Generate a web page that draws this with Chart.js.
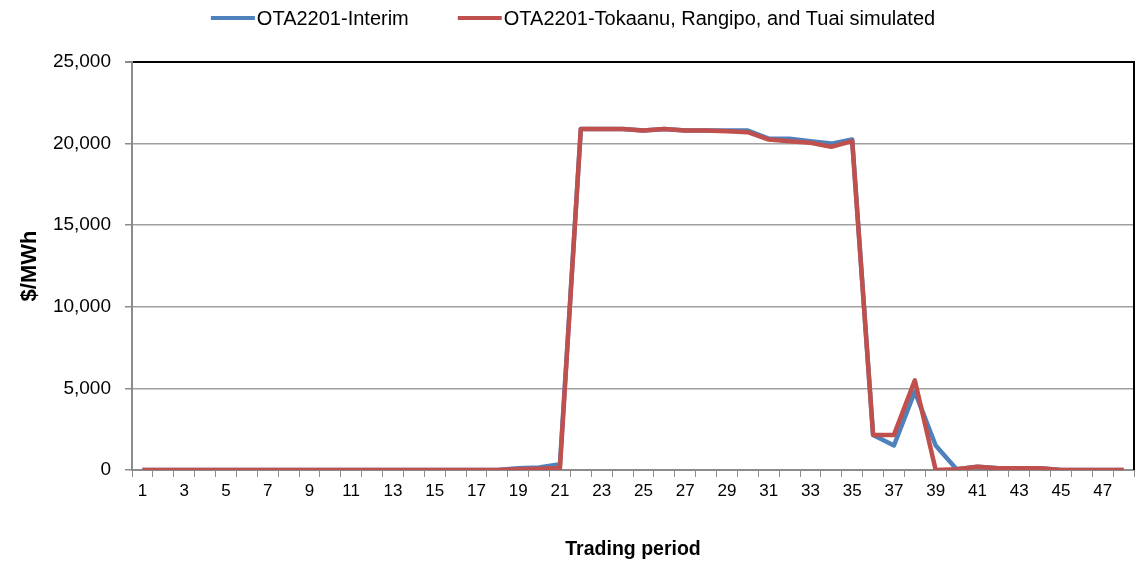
<!DOCTYPE html>
<html>
<head>
<meta charset="utf-8">
<script src="https://cdn.jsdelivr.net/npm/chart.js@4.4.1/dist/chart.umd.min.js"></script>
<style>
  html, body { margin: 0; padding: 0; background: #fff; }
  #wrap { width: 1146px; height: 565px; }
</style>
</head>
<body>
<div id="wrap"><canvas id="myChart" width="1146" height="565"></canvas></div>
<script>
// trading periods 1..48
const periods = [];
for (let p = 1; p <= 48; p++) periods.push(String(p));

const interim = [
  0, 0, 0, 0, 0, 0, 0, 0, 0, 0, 0, 0, 0, 0, 0, 0, 0, 0,
  100, 150, 350,
  20900, 20900, 20900, 20800, 20900, 20800, 20800, 20800, 20800,
  20300, 20300, 20150, 20000, 20250,
  2150, 1500, 4800, 1500, 50, 200, 100, 100, 100, 0, 0, 0, 0
];

const simulated = [
  0, 0, 0, 0, 0, 0, 0, 0, 0, 0, 0, 0, 0, 0, 0, 0, 0, 0,
  50, 80, 120,
  20900, 20900, 20900, 20800, 20900, 20800, 20800, 20750, 20700,
  20250, 20150, 20050, 19800, 20150,
  2150, 2150, 5500, 0, 50, 200, 100, 100, 100, 0, 0, 0, 0
];

const seriesNames = ['OTA2201-Interim', 'OTA2201-Tokaanu, Rangipo, and Tuai simulated'];
const seriesColors = ['#4F81BD', '#C0504D'];

const FONT = "'Liberation Sans', Arial, sans-serif";

// legend drawn by hand so it sits exactly like the original
const legendPlugin = {
  id: 'topLegend',
  afterDraw(chart) {
    const ctx = chart.ctx;
    ctx.save();
    ctx.font = '20px ' + FONT;
    const lineW = 44, gapText = 2, gapItem = 49;
    const widths = seriesNames.map(n => lineW + gapText + ctx.measureText(n).width);
    const total = widths.reduce((a, b) => a + b, 0) + gapItem * (widths.length - 1);
    let x = chart.width / 2 - total / 2;
    const y = 18;
    seriesNames.forEach((name, i) => {
      ctx.strokeStyle = seriesColors[i];
      ctx.lineWidth = 4;
      ctx.beginPath();
      ctx.moveTo(x, y);
      ctx.lineTo(x + lineW, y);
      ctx.stroke();
      ctx.fillStyle = '#000';
      ctx.textBaseline = 'middle';
      ctx.textAlign = 'left';
      ctx.fillText(name, x + lineW + gapText, y + 1);
      x += widths[i] + gapItem;
    });
    ctx.restore();
  }
};

// black right edge of the plot area
const borderPlugin = {
  id: 'rightBorder',
  afterDatasetsDraw(chart) {
    const { ctx, chartArea } = chart;
    ctx.save();
    ctx.strokeStyle = '#000';
    ctx.lineWidth = 2;
    ctx.beginPath();
    ctx.moveTo(chartArea.right, chartArea.top - 1);
    ctx.lineTo(chartArea.right, chartArea.bottom);
    ctx.stroke();
    ctx.restore();
  }
};

window.onload = function () {
  const ctx = document.getElementById('myChart').getContext('2d');

  new Chart(ctx, {
    type: 'line',
    data: {
      labels: periods,
      datasets: [
        {
          label: seriesNames[0],
          data: interim,
          borderColor: seriesColors[0],
          borderWidth: 4.5,
          pointRadius: 0,
          tension: 0,
          borderJoinStyle: 'round',
          order: 2
        },
        {
          label: seriesNames[1],
          data: simulated,
          borderColor: seriesColors[1],
          borderWidth: 4.5,
          pointRadius: 0,
          tension: 0,
          borderJoinStyle: 'round',
          order: 1
        }
      ]
    },
    options: {
      responsive: false,
      animation: false,
      layout: { padding: { top: 62, right: 12, left: 0, bottom: 0 } },
      plugins: {
        legend: { display: false },
        tooltip: { enabled: false }
      },
      scales: {
        x: {
          type: 'category',
          offset: true,
          afterFit: (scale) => { scale.height = 95; },
          grid: {
            offset: true,
            drawOnChartArea: false,
            drawTicks: true,
            tickLength: 7,
            tickColor: '#8c8c8c',
            lineWidth: 1
          },
          border: { color: '#8c8c8c', width: 2 },
          ticks: {
            autoSkip: false,
            maxRotation: 0,
            padding: 4,
            color: '#000',
            font: { family: FONT, size: 17 },
            callback: function (v, i) { return i % 2 === 0 ? periods[i] : ''; }
          },
          title: {
            display: true,
            text: 'Trading period',
            color: '#000',
            font: { family: FONT, size: 19.5, weight: 'bold' },
            padding: { top: 0, bottom: 4 }
          }
        },
        y: {
          min: 0,
          max: 25000,
          afterFit: (scale) => { scale.width = 132; },
          grid: {
            color: (c) => (c.tick && c.tick.value === 25000 ? '#000' : '#a0a0a0'),
            lineWidth: (c) => (c.tick && c.tick.value === 25000 ? 2 : 1.5),
            tickLength: 7,
            tickColor: '#8c8c8c'
          },
          border: { color: '#8c8c8c', width: 2 },
          ticks: {
            stepSize: 5000,
            padding: 14,
            color: '#000',
            font: { family: FONT, size: 19 },
            callback: (v) => v.toLocaleString('en-US')
          },
          title: {
            display: true,
            text: '$/MWh',
            color: '#000',
            font: { family: FONT, size: 22, weight: 'bold' },
            padding: { top: 17, bottom: 0 }
          }
        }
      }
    },
    plugins: [legendPlugin, borderPlugin]
  });
};
</script>
</body>
</html>
